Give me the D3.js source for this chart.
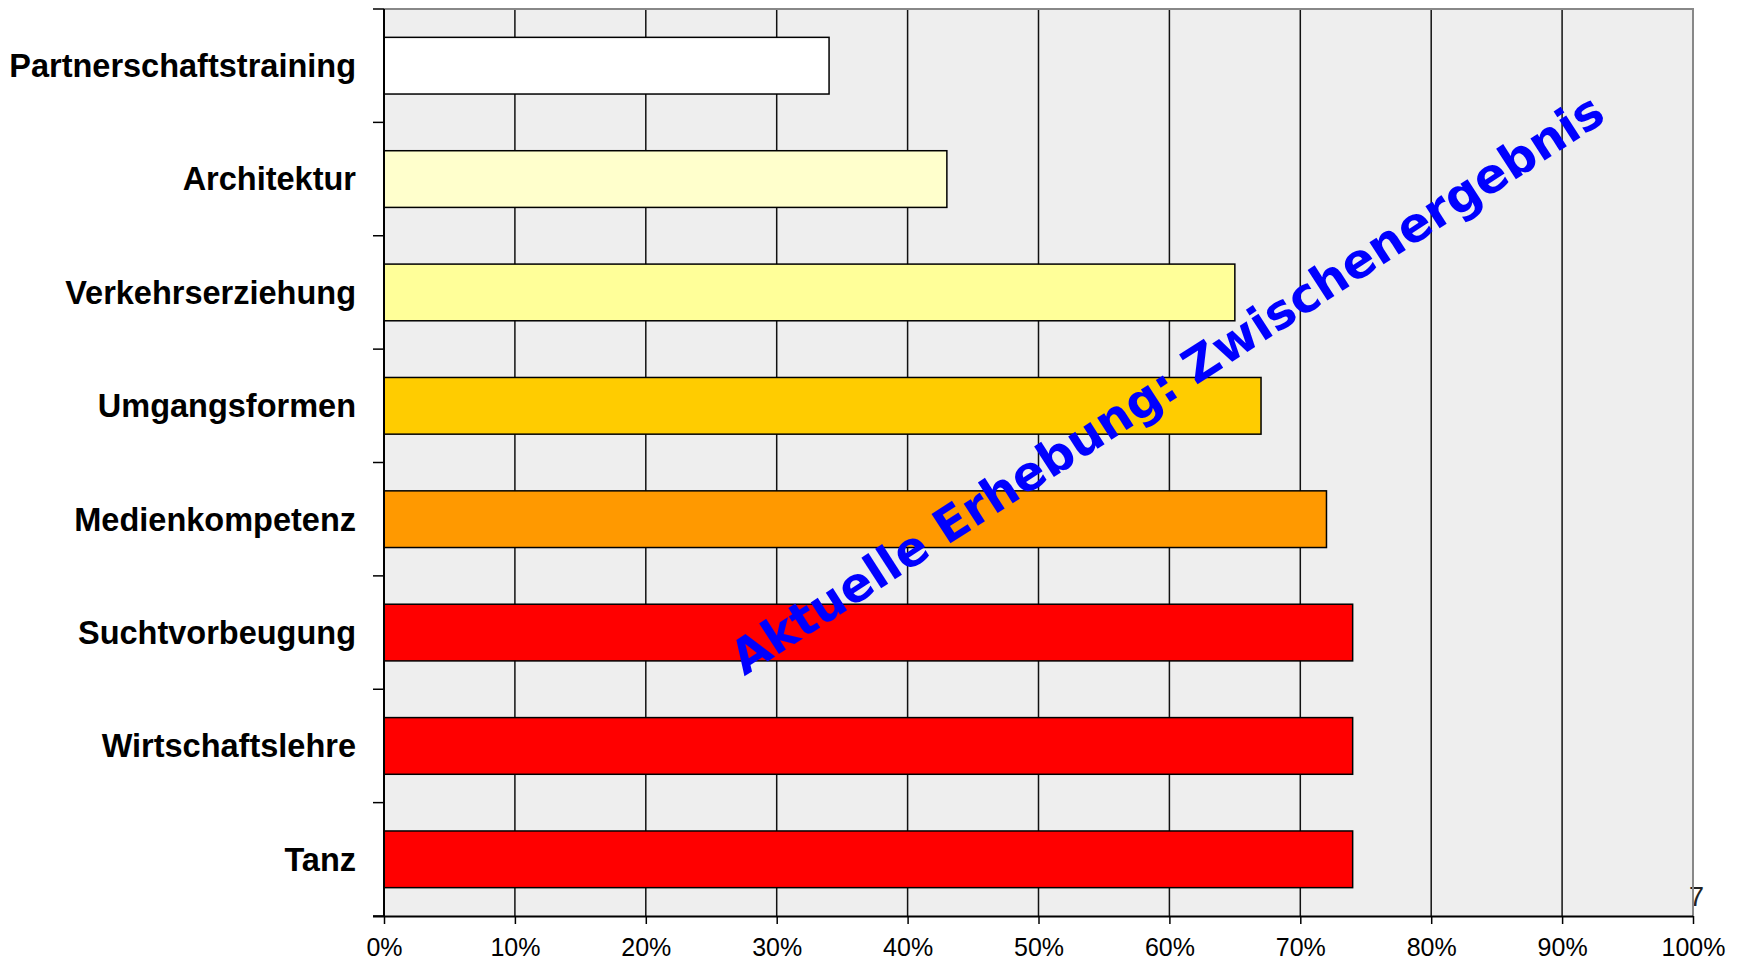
<!DOCTYPE html>
<html lang="de">
<head>
  <meta charset="UTF-8" />
  <title>Zwischenergebnis</title>
  <style>
    body { margin: 0; background: #fff; }
    svg { display: block; }
  </style>
</head>
<body>
  <div id="chart"></div>
  <script src="https://cdn.jsdelivr.net/npm/d3@7"></script>
  <script>
    // data
    const categories = ["Partnerschaftstraining", "Architektur", "Verkehrserziehung", "Umgangsformen",
      "Medienkompetenz", "Suchtvorbeugung", "Wirtschaftslehre", "Tanz"];
    const values = [0.34, 0.43, 0.65, 0.67, 0.72, 0.74, 0.74, 0.74];
    const barColors = ["#ffffff", "#ffffcc", "#ffff99", "#ffcc00", "#ff9900", "#ff0000", "#ff0000", "#ff0000"];
    const xTicks = [0, 0.1, 0.2, 0.3, 0.4, 0.5, 0.6, 0.7, 0.8, 0.9, 1];
    const watermark = "Aktuelle Erhebung: Zwischenergebnis";
    const pageNo = "7";

    const W = 1740, H = 960;
    const m = { left: 384, right: 1693, top: 9, bottom: 916 };

    const svg = d3.select("#chart").append("svg")
      .attr("width", W).attr("height", H);

    const x = d3.scaleLinear().domain([0, 1]).range([m.left, m.right]);
    const y = d3.scaleBand().domain(categories).range([m.top, m.bottom])
      .paddingInner(0.5).paddingOuter(0.25);

    // plot background
    svg.append("rect")
      .attr("x", m.left).attr("y", m.top)
      .attr("width", m.right - m.left).attr("height", m.bottom - m.top)
      .attr("fill", "#eeeeee");

    // page number, partly under the frame
    svg.append("text")
      .attr("x", m.right - 4).attr("y", 906)
      .attr("font-family", "Liberation Sans, Arial, sans-serif")
      .attr("font-size", 27).attr("fill", "#222")
      .text(pageNo);

    // vertical grid
    svg.append("g")
      .selectAll("line")
      .data(xTicks.slice(1, -1))
      .join("line")
      .attr("x1", d => x(d)).attr("x2", d => x(d))
      .attr("y1", m.top).attr("y2", m.bottom)
      .attr("stroke", "#111").attr("stroke-width", 1.5);

    // top and right frame
    svg.append("path")
      .attr("d", `M${m.left},${m.top}H${m.right}V${m.bottom}`)
      .attr("fill", "none").attr("stroke", "#888").attr("stroke-width", 2);

    // bars
    svg.append("g")
      .selectAll("rect")
      .data(categories)
      .join("rect")
      .attr("x", x(0))
      .attr("y", d => y(d))
      .attr("width", (d, i) => x(values[i]) - x(0))
      .attr("height", y.bandwidth())
      .attr("fill", (d, i) => barColors[i])
      .attr("stroke", "#000").attr("stroke-width", 1.5);

    // x axis
    const xAxis = svg.append("g")
      .attr("transform", `translate(0,${m.bottom})`)
      .call(d3.axisBottom(x).tickValues(xTicks).tickFormat(d3.format(".0%"))
        .tickSize(8).tickPadding(14));
    xAxis.select(".domain").attr("stroke", "#000").attr("stroke-width", 2)
      .attr("d", `M${m.left - 11},0.5H${m.right}`);
    xAxis.selectAll(".tick line").attr("stroke", "#000").attr("stroke-width", 1.5);
    xAxis.selectAll("text")
      .attr("font-family", "Liberation Sans, Arial, sans-serif")
      .attr("font-size", 25).attr("fill", "#000");

    // y axis: ticks sit between categories
    const bounds = categories.map(c => y(c) - y.step() * y.paddingInner() / 2);
    bounds.push(m.bottom);
    const yAxis = svg.append("g");
    yAxis.append("line")
      .attr("x1", m.left).attr("x2", m.left)
      .attr("y1", m.top).attr("y2", m.bottom)
      .attr("stroke", "#000").attr("stroke-width", 2);
    yAxis.selectAll("line.tk")
      .data(bounds)
      .join("line").attr("class", "tk")
      .attr("x1", m.left - 11).attr("x2", m.left)
      .attr("y1", d => d).attr("y2", d => d)
      .attr("stroke", "#000").attr("stroke-width", 1.5);
    yAxis.selectAll("text")
      .data(categories)
      .join("text")
      .attr("x", 356)
      .attr("y", d => y(d) + y.bandwidth() / 2)
      .attr("dy", "0.35em")
      .attr("text-anchor", "end")
      .attr("font-family", "Liberation Sans, Arial, sans-serif")
      .attr("font-weight", "bold")
      .attr("font-size", 32.5)
      .attr("fill", "#000")
      .text(d => d);

    // diagonal watermark
    svg.append("text")
      .attr("transform", "translate(1167,384) rotate(-32.8)")
      .attr("text-anchor", "middle")
      .attr("dy", "0.35em")
      .attr("font-family", "DejaVu Sans, Verdana, sans-serif")
      .attr("font-weight", "bold")
      .attr("font-size", 48)
      .attr("fill", "#0000ff")
      .text(watermark);
  </script>
</body>
</html>
